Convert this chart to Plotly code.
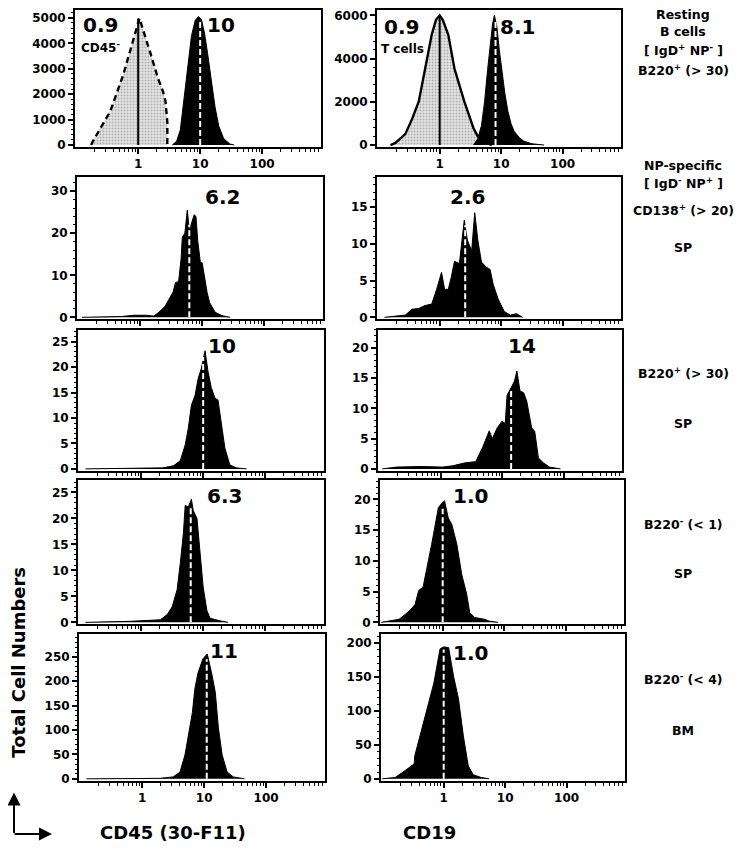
import plotly.graph_objects as go

W, H = 742, 853
BODY = 8  # default page margin of the HTML body
FW, FH = W - 2 * BODY, H - 2 * BODY
FONT = "DejaVu Sans"

# ---------------- data (x positions as log10 of fluorescence) ----------------
# Row 1 left: CD45 on resting B cells; control (CD45- cells)
r1L_ctrl_x = [-0.76, -0.73, -0.6, -0.45, -0.24, -0.08, 0.02, 0.19, 0.32, 0.40, 0.44, 0.47, 0.47]
r1L_ctrl_y = [0, 156, 700, 1330, 2770, 4180, 4980, 3670, 2620, 2110, 1720, 900, 0]
r1L_x = [0.55, 0.62, 0.68, 0.74, 0.80, 0.86, 0.92, 0.97, 1.02, 1.07, 1.12, 1.18, 1.24, 1.30, 1.38, 1.48, 1.55]
r1L_y = [0, 150, 600, 1800, 3200, 4300, 4900, 5050, 4950, 4400, 3600, 2600, 1500, 750, 250, 40, 0]

# Row 1 right: CD19 on resting B cells; control (T cells)
r1R_ctrl_x = [-0.80, -0.72, -0.56, -0.45, -0.34, -0.24, -0.13, -0.06, 0.0, 0.05, 0.14, 0.24, 0.40, 0.55, 0.62, 0.72, 0.85]
r1R_ctrl_y = [0, 100, 506, 1200, 2020, 3540, 5100, 5800, 6000, 5800, 5100, 3540, 2020, 780, 400, 150, 0]
r1R_x = [0.55, 0.62, 0.68, 0.73, 0.78, 0.82, 0.86, 0.89, 0.93, 0.97, 1.01, 1.06, 1.11, 1.16, 1.21, 1.30, 1.37, 1.50, 1.70]
r1R_y = [0, 300, 900, 2000, 3500, 4700, 5600, 6000, 5500, 4400, 3400, 2400, 1560, 1000, 640, 330, 180, 60, 0]

# Row 2: CD138+ NP-specific, SP
r2L_x = [-0.94, -0.3, -0.1, 0.1, 0.22, 0.30, 0.40, 0.47, 0.53, 0.57, 0.62, 0.66, 0.68, 0.72, 0.76, 0.79,
         0.82, 0.87, 0.90, 0.93, 0.97, 1.00, 1.04, 1.08, 1.12, 1.16, 1.21, 1.32, 1.45]
r2L_y = [0, 0.2, 0.5, 0.5, 0.3, 1.2, 2.6, 4.3, 6.0, 8.3, 8.5, 14, 19.1, 20, 25.5, 21,
         22, 24.4, 24, 18, 13.2, 13, 9, 5.9, 3.5, 2.4, 1.2, 0.4, 0]
r2R_x = [-0.9, -0.77, -0.56, -0.45, -0.34, -0.24, -0.13, -0.05, 0.03, 0.08, 0.14, 0.19, 0.24, 0.32,
         0.40, 0.45, 0.52, 0.57, 0.62, 0.68, 0.76, 0.82, 0.87, 0.95, 1.05, 1.15, 1.25, 1.35]
r2R_y = [0, 0.1, 0.3, 1.1, 1.2, 1.6, 1.8, 3.8, 6.1, 3.8, 3.8, 5.5, 7.6, 7.3,
         13.2, 10.5, 9, 14.2, 10.5, 7.5, 6.8, 6.5, 4.5, 2.5, 0.8, 0.3, 0.5, 0]

# Row 3: B220+ NP-specific, SP
r3L_x = [-0.9, 0.0, 0.35, 0.52, 0.63, 0.71, 0.76, 0.81, 0.87, 0.92, 0.97, 1.03, 1.08, 1.13, 1.19,
         1.24, 1.29, 1.35, 1.43, 1.53, 1.70]
r3L_y = [0, 0.1, 0.2, 0.6, 1.6, 4.7, 8, 12.5, 14.5, 17.8, 19.7, 23.2, 19, 16, 13.9,
         13.5, 9.4, 4.1, 0.8, 0.2, 0]
r3R_x = [-0.95, -0.72, -0.3, 0.03, 0.19, 0.40, 0.57, 0.68, 0.79, 0.84, 0.92, 1.0, 1.05, 1.08, 1.16,
         1.20, 1.24, 1.29, 1.35, 1.40, 1.48, 1.53, 1.59, 1.67, 1.77, 1.95]
r3R_y = [0, 0.3, 0.4, 0.3, 0.5, 1.0, 1.2, 3.5, 6.3, 5.0, 6.8, 7.9, 7.5, 12.2, 13.7,
         14.5, 16.2, 12.9, 12.6, 11.2, 6.8, 6.2, 1.8, 1.0, 0.3, 0]

# Row 4: B220- (< 1), SP
r4L_x = [-0.9, -0.18, 0.31, 0.42, 0.50, 0.58, 0.63, 0.68, 0.71, 0.76, 0.81, 0.84, 0.90, 0.95, 1.00,
         1.06, 1.11, 1.27, 1.40]
r4L_y = [0, 0.2, 0.5, 1.5, 3, 6.3, 11.3, 17, 22.5, 22.2, 23.7, 21.5, 20, 13, 6.8,
         2.3, 0.8, 0.3, 0]
r4R_x = [-1.0, -0.94, -0.71, -0.61, -0.53, -0.45, -0.39, -0.32, -0.26, -0.18, -0.13, -0.07, -0.02, 0.03,
         0.09, 0.15, 0.23, 0.31, 0.39, 0.44, 0.52, 0.68, 0.76, 0.90]
r4R_y = [0, 0.1, 0.5, 1.3, 2.0, 2.9, 5.2, 5.7, 8.5, 12.7, 15.4, 18.7, 19.3, 19.8,
         17, 15.9, 12.7, 7.8, 4.6, 1.6, 0.8, 0.5, 0.2, 0]

# Row 5: B220- (< 4), BM
r5L_x = [-0.9, 0.29, 0.50, 0.61, 0.69, 0.74, 0.81, 0.85, 0.90, 0.98, 1.05, 1.13, 1.18, 1.23, 1.29,
         1.37, 1.47, 1.65]
r5L_y = [0, 1, 4, 14, 49, 89, 136, 185, 217, 246, 256, 211, 177, 104, 49,
         14, 4, 0]
r5R_x = [-1.0, -0.79, -0.63, -0.48, -0.47, -0.39, -0.27, -0.16, -0.06, 0.0, 0.08, 0.16, 0.24, 0.32,
         0.40, 0.48, 0.61, 0.74]
r5R_y = [0, 2, 12, 22, 34, 63, 103, 141, 191, 194, 193, 151, 118, 63,
         19, 6, 2, 0]

# Median values (numbers printed on each panel) and height of the dashed marker
median_labels = ["10", "8.1", "6.2", "2.6", "10", "14", "6.3", "1.0", "11", "1.0"]
median_values = [10, 8.1, 6.2, 2.6, 10, 14, 6.3, 1.0, 11, 1.0]
median_heights = [4900, 5800, 22, 12.5, 22, 13, 22, 18.5, 245, 190]
ctrl_labels = ["0.9", "0.9"]
ctrl_names = ["CD45<sup>-</sup>", "T cells"]
ctrl_line_x = [1.0, 1.0]
ctrl_line_h = [4980, 6000]

# y axis ranges and ticks (per panel: row1L,row1R,row2L,...)
y_tops = [5310, 6250, 33.3, 19.0, 27.3, 23.0, 27.3, 23.1, 297, 213]
y_ticks = [[0, 1000, 2000, 3000, 4000, 5000], [0, 2000, 4000, 6000],
           [0, 10, 20, 30], [0, 5, 10, 15],
           [0, 5, 10, 15, 20, 25], [0, 5, 10, 15, 20],
           [0, 5, 10, 15, 20, 25], [0, 5, 10, 15, 20],
           [0, 50, 100, 150, 200, 250], [0, 50, 100, 150, 200]]
x_ticks = [1, 10, 100]
x_tick_text = ["1", "10", "100"]

row_labels = [
    ["Resting", "B cells", "[ IgD<sup>+</sup> NP<sup>-</sup> ]", "B220<sup>+</sup> (> 30)"],
    ["NP-specific", "[ IgD<sup>-</sup> NP<sup>+</sup> ]", "CD138<sup>+</sup> (> 20)", "SP"],
    ["B220<sup>+</sup> (> 30)", "SP"],
    ["B220<sup>-</sup> (< 1)", "SP"],
    ["B220<sup>-</sup> (< 4)", "BM"],
]
row_label_y = [[13, 30, 48, 69], [165, 183, 210, 248], [375, 425], [527, 577], [683, 735]]

# ---------------- geometry (pixels in the final screenshot) ----------------
left_x0 = [75, 77, 78, 78, 79]
right_x0 = [377, 377, 378, 380, 381]
row_px = [(8, 146), (177, 320), (331, 473), (483, 628), (638, 786)]
LOGRANGE = [-1.02, 2.95]

panels = [
    (r1L_x, r1L_y), (r1R_x, r1R_y), (r2L_x, r2L_y), (r2R_x, r2R_y), (r3L_x, r3L_y),
    (r3R_x, r3R_y), (r4L_x, r4L_y), (r4R_x, r4R_y), (r5L_x, r5L_y), (r5R_x, r5R_y),
]
controls = {0: (r1L_ctrl_x, r1L_ctrl_y, "6px,4px"), 1: (r1R_ctrl_x, r1R_ctrl_y, "solid")}

label_pos = [(221, 23), (517, 25), (222, 197), (467, 197), (222, 347),
             (522, 347), (224, 499), (471, 499), (224, 655), (470, 657)]
ctrl_label_pos = [(100, 23), (401, 25)]
ctrl_name_pos = [(100, 45), (402, 47)]


def clamp(v):
    return max(0.0, min(1.0, v))


def px(xp):
    return (xp - BODY) / FW


def py(yp):
    return 1 - (yp - BODY) / FH


fig = go.Figure()
layout = dict(
    width=FW, height=FH, margin=dict(l=0, r=0, t=0, b=0),
    paper_bgcolor="white", plot_bgcolor="white", showlegend=False,
    font=dict(family=FONT, color="black", size=12),
)

minor_x = [k * 10 ** d for d in (-1, 0, 1, 2) for k in range(2, 10)]
annotations = []
bold = dict(family=FONT, color="black", weight="bold")


def note(x, y, text, size, **kw):
    d = dict(x=px(x), y=py(y), xref="paper", yref="paper", text=text, showarrow=False,
             xanchor="center", yanchor="middle", font=dict(size=size, **bold))
    d.update(kw)
    annotations.append(d)


for i in range(10):
    r, c = divmod(i, 2)
    k = i + 1
    xa = "x" if k == 1 else f"x{k}"
    ya = "y" if k == 1 else f"y{k}"
    x0 = left_x0[r] if c == 0 else right_x0[r]
    w = 246 if c == 0 else 244
    top, bot = row_px[r]

    if i in controls:
        cx, cy, dash = controls[i]
        fig.add_trace(go.Scatter(
            x=[10 ** v for v in cx], y=cy, mode="lines", fill="tozeroy",
            fillcolor="#d4d4d4",
            fillpattern=dict(shape=".", fgcolor="#777777", bgcolor="#e4e4e4", size=3, solidity=0.35),
            line=dict(color="black", width=2.4, dash=dash), xaxis=xa, yaxis=ya,
            hoverinfo="skip"))
        fig.add_trace(go.Scatter(
            x=[ctrl_line_x[i], ctrl_line_x[i]], y=[0, ctrl_line_h[i]], mode="lines",
            line=dict(color="black", width=2), xaxis=xa, yaxis=ya, hoverinfo="skip"))

    hx, hy = panels[i]
    fig.add_trace(go.Scatter(
        x=[10 ** v for v in hx], y=hy, mode="lines", fill="tozeroy", fillcolor="black",
        line=dict(color="black", width=1), xaxis=xa, yaxis=ya, hoverinfo="skip"))
    fig.add_trace(go.Scatter(
        x=[median_values[i], median_values[i]], y=[0, median_heights[i]], mode="lines",
        line=dict(color="white", width=2, dash="6px,3px"), xaxis=xa, yaxis=ya, hoverinfo="skip"))

    show_xlabels = r in (0, 4)
    layout["xaxis" if k == 1 else f"xaxis{k}"] = dict(
        type="log", range=LOGRANGE, domain=[clamp(px(x0)), clamp(px(x0 + w))], anchor=ya,
        showline=True, mirror=True, linecolor="black", linewidth=2,
        ticks="outside", ticklen=5, tickwidth=1.5, tickcolor="black",
        tickmode="array", tickvals=x_ticks, ticktext=x_tick_text,
        showticklabels=show_xlabels, tickfont=dict(size=12, **bold),
        minor=dict(ticks="outside", ticklen=3, tickwidth=1, tickcolor="black",
                   tickmode="array", tickvals=minor_x),
        showgrid=False, zeroline=False, fixedrange=True,
    )
    yt = y_ticks[i]
    step = yt[1] - yt[0]
    layout["yaxis" if k == 1 else f"yaxis{k}"] = dict(
        range=[-0.012 * y_tops[i], y_tops[i]], domain=[clamp(py(bot)), clamp(py(top))], anchor=xa,
        showline=True, mirror=True, linecolor="black", linewidth=2,
        ticks="outside", ticklen=5, tickwidth=1.5, tickcolor="black",
        tickmode="array", tickvals=yt, ticktext=[str(v) for v in yt],
        tickfont=dict(size=12, **bold),
        minor=dict(ticks="outside", ticklen=2, tickwidth=1, tickcolor="black",
                   tick0=0, dtick=step / 5),
        showgrid=False, zeroline=False, fixedrange=True,
    )

    lx, ly = label_pos[i]
    note(lx, ly, median_labels[i], 20)

for j in range(2):
    lx, ly = ctrl_label_pos[j]
    note(lx, ly, ctrl_labels[j], 20)
    nx, ny = ctrl_name_pos[j]
    note(nx, ny, ctrl_names[j], 12)

for r in range(5):
    for txt, yy in zip(row_labels[r], row_label_y[r]):
        note(683, yy, txt, 12.5)

# Axis titles
note(19, 667, "Total Cell Numbers", 18, textangle=-90)
note(173, 838, "CD45 (30-F11)", 18)
note(429, 838, "CD19", 18)
# corner arrows
annotations.append(dict(x=px(14), y=py(798), xref="paper", yref="paper", text="", showarrow=True,
                        ax=0, ay=42, arrowhead=2, arrowsize=1.3, arrowwidth=2, arrowcolor="black"))
annotations.append(dict(x=px(52), y=py(840), xref="paper", yref="paper", text="", showarrow=True,
                        ax=-39, ay=0, arrowhead=2, arrowsize=1.3, arrowwidth=2, arrowcolor="black"))

layout["annotations"] = annotations
fig.update_layout(**layout)
fig.write_html("out.html")
